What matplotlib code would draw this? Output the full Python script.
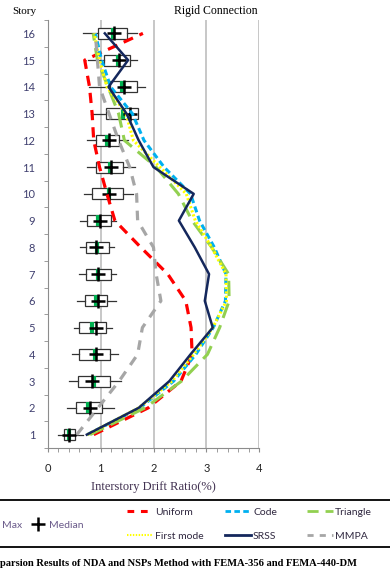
import matplotlib.pyplot as plt
from matplotlib.lines import Line2D
import numpy as np

# story levels
stories = list(range(1, 17))

# NDA box statistics per story (1 -> 16)
whis_lo = [0.19, 0.36, 0.40, 0.45, 0.50, 0.56, 0.585, 0.61, 0.62, 0.69, 0.75, 0.75, 0.81, 0.79, 0.77, 0.67]
q1 = [0.30, 0.535, 0.58, 0.60, 0.60, 0.71, 0.72, 0.73, 0.75, 0.84, 0.92, 0.92, 1.11, 1.18, 1.07, 0.96]
q3 = [0.52, 1.03, 1.18, 1.18, 1.10, 1.13, 1.19, 1.15, 1.19, 1.43, 1.43, 1.35, 1.71, 1.69, 1.56, 1.50]
whis_hi = [0.67, 1.26, 1.38, 1.32, 1.22, 1.30, 1.30, 1.25, 1.30, 1.62, 1.65, 1.52, 1.71, 1.83, 1.68, 1.68]
box_mid = [0.40, 0.77, 0.88, 0.89, 0.84, 0.92, 0.95, 0.94, 0.96, 1.15, 1.18, 1.13, 1.43, 1.40, 1.32, 1.23]
median = [0.41, 0.80, 0.83, 0.91, 0.92, 0.96, 0.95, 0.91, 0.98, 1.16, 1.20, 1.15, 1.56, 1.45, 1.35, 1.25]

# NSP results per story (1 -> 16)
uniform = [0.87, 1.90, 2.52, 2.73, 2.71, 2.61, 2.27, 1.76, 1.27, 1.12, 0.98, 0.87, 0.84, 0.79, 0.70, 1.80]
code = [0.75, 1.74, 2.38, 2.80, 3.13, 3.36, 3.37, 3.15, 2.87, 2.70, 2.20, 1.82, 1.60, 1.19, 1.02, 0.90]
triangle = [0.80, 1.84, 2.53, 3.02, 3.25, 3.43, 3.42, 3.10, 2.73, 2.47, 2.05, 1.45, 1.34, 1.14, 0.94, 0.86]
first_mode = [0.75, 1.72, 2.35, 2.76, 3.12, 3.38, 3.37, 3.10, 2.79, 2.62, 2.12, 1.62, 1.48, 1.12, 0.98, 0.88]
srss = [0.74, 1.72, 2.30, 2.70, 3.12, 2.97, 3.05, 2.78, 2.48, 2.76, 2.00, 1.72, 1.49, 1.15, 1.52, 1.08]
mmpa = [0.55, 0.95, 1.35, 1.70, 1.79, 2.14, 2.05, 2.00, 1.70, 1.68, 1.55, 1.34, 1.16, 0.98, 0.94, 0.90]

SERIF = 'Liberation Serif'
SANS = 'Lato'

W, H = 390, 573
fig = plt.figure(figsize=(W / 100, H / 100), dpi=100)
ax = fig.add_axes([47.7 / W, 1 - 448 / H, (259.3 - 47.7) / W, (448 - 20) / H])

# boxes
stats = []
for i in range(len(stories)):
    stats.append(dict(med=box_mid[i], q1=q1[i], q3=q3[i],
                      whislo=whis_lo[i], whishi=whis_hi[i]))
ax.bxp(stats, positions=stories, widths=0.42, vert=False, showcaps=False,
       showfliers=False, patch_artist=True,
       boxprops=dict(facecolor='white', edgecolor='#333333', linewidth=0.9),
       whiskerprops=dict(color='#333333', linewidth=0.9),
       medianprops=dict(color='#00B050', linewidth=3), zorder=3)
ax.plot(median, stories, linestyle='none', marker='+', color='black',
        markersize=10, markeredgewidth=1.8, zorder=4)

# pushover curves
ax.plot(uniform, stories, color='#FF0000', lw=2.3, ls=(0, (3.2, 2.2)), zorder=5)
ax.plot(code, stories, color='#00B0F0', lw=2.2, ls=(0, (2, 1.2)), zorder=5)
ax.plot(triangle, stories, color='#92D050', lw=2.2, ls=(0, (5, 2.5)), zorder=5)
ax.plot(first_mode, stories, color='#FFFF00', lw=2.2, ls=(0, (0.7, 0.7)), zorder=5)
ax.plot(srss, stories, color='#14275C', lw=1.8, zorder=6)
ax.plot(mmpa, stories, color='#A6A6A6', lw=2.3, ls=(0, (3, 2.5)), zorder=5)

ax.set_xlim(0, 4)
ax.set_ylim(0.5, 16.5)
ax.set_xticks([0, 1, 2, 3, 4])
ax.set_xticks(np.arange(0, 4.01, 0.2), minor=True)
ax.set_yticks(stories)
ax.set_yticks(np.arange(0.5, 16.6, 1), minor=True)
ax.tick_params(axis='x', which='both', direction='out', length=3, color='#8c8c8c',
               labelsize=8, pad=8, labelcolor='#222222')
ax.tick_params(axis='y', which='major', length=0, pad=9, labelsize=8,
               labelcolor='#404070')
ax.tick_params(axis='y', which='minor', direction='out', length=3, color='#8c8c8c')
for lab in ax.get_xticklabels() + ax.get_yticklabels():
    lab.set_family(SANS)

ax.grid(axis='x', which='major', color='#BEBEBE', lw=1.2, zorder=0)
ax.set_axisbelow(True)
for s in ['top', 'right']:
    ax.spines[s].set_visible(False)
for s in ['left', 'bottom']:
    ax.spines[s].set_color('#8c8c8c')

ax.set_xlabel('Interstory Drift Ratio(%)', family=SERIF, fontsize=9,
              color='#403050', labelpad=5)
fig.text(12 / W, 1 - 12 / H, 'Story', family=SERIF, fontsize=8, va='center')
fig.text(258 / W, 1 - 11 / H, 'Rigid Connection', family=SERIF, fontsize=8.5,
         va='center', ha='right')

# legend frame lines
for yy in [500, 547]:
    fig.add_artist(Line2D([0, 1], [1 - yy / H] * 2, transform=fig.transFigure,
                          color='black', lw=1.3))

lg_kw = dict(frameon=False, handlelength=2.5, handletextpad=0.2,
             labelspacing=1.4, borderpad=0, borderaxespad=0, loc='center left',
             prop=dict(family=SANS, size=7.5))
cols = [
    (127, [('Uniform', dict(color='#FF0000', lw=2.2, ls=(0, (2.2, 2.2)))),
           ('First mode', dict(color='#FFFF00', lw=1.5, ls=(0, (0.7, 0.7))))]),
    (225, [('Code', dict(color='#00B0F0', lw=2, ls=(0, (2, 1.2)))),
           ('SRSS', dict(color='#14275C', lw=2))]),
    (307, [('Triangle', dict(color='#92D050', lw=2, ls=(0, (4, 2.5)))),
           ('MMPA', dict(color='#A6A6A6', lw=2, ls=(0, (2.2, 2.2))))]),
]
for x0, entries in cols:
    handles = [Line2D([], [], **kw) for _, kw in entries]
    labels = [name for name, _ in entries]
    leg = fig.legend(handles, labels, bbox_to_anchor=(x0 / W, 1 - 524 / H), **lg_kw)
    for t in leg.get_texts():
        t.set_color('#302840')

mx_handles = [Line2D([], [], color='#A6A6A6', lw=1.2),
              Line2D([], [], color='black', ls='none', marker='+', ms=10, mew=1.8)]
leg2 = fig.legend(mx_handles, ['Max', 'Median'], ncol=2, frameon=False,
                  handlelength=1.5, handletextpad=0.3, columnspacing=0.8,
                  borderpad=0, borderaxespad=0, loc='center left',
                  bbox_to_anchor=(-17 / W, 1 - 525 / H),
                  prop=dict(family=SANS, size=7.5))
for t in leg2.get_texts():
    t.set_color('#6a5a8a')

fig.text(0, 1 - 563 / H,
         'parsion Results of NDA and NSPs Method with FEMA-356 and FEMA-440-DM',
         family=SERIF, fontsize=7.6, fontweight='bold', va='center', ha='left')

fig.savefig('out.png', dpi=100)
